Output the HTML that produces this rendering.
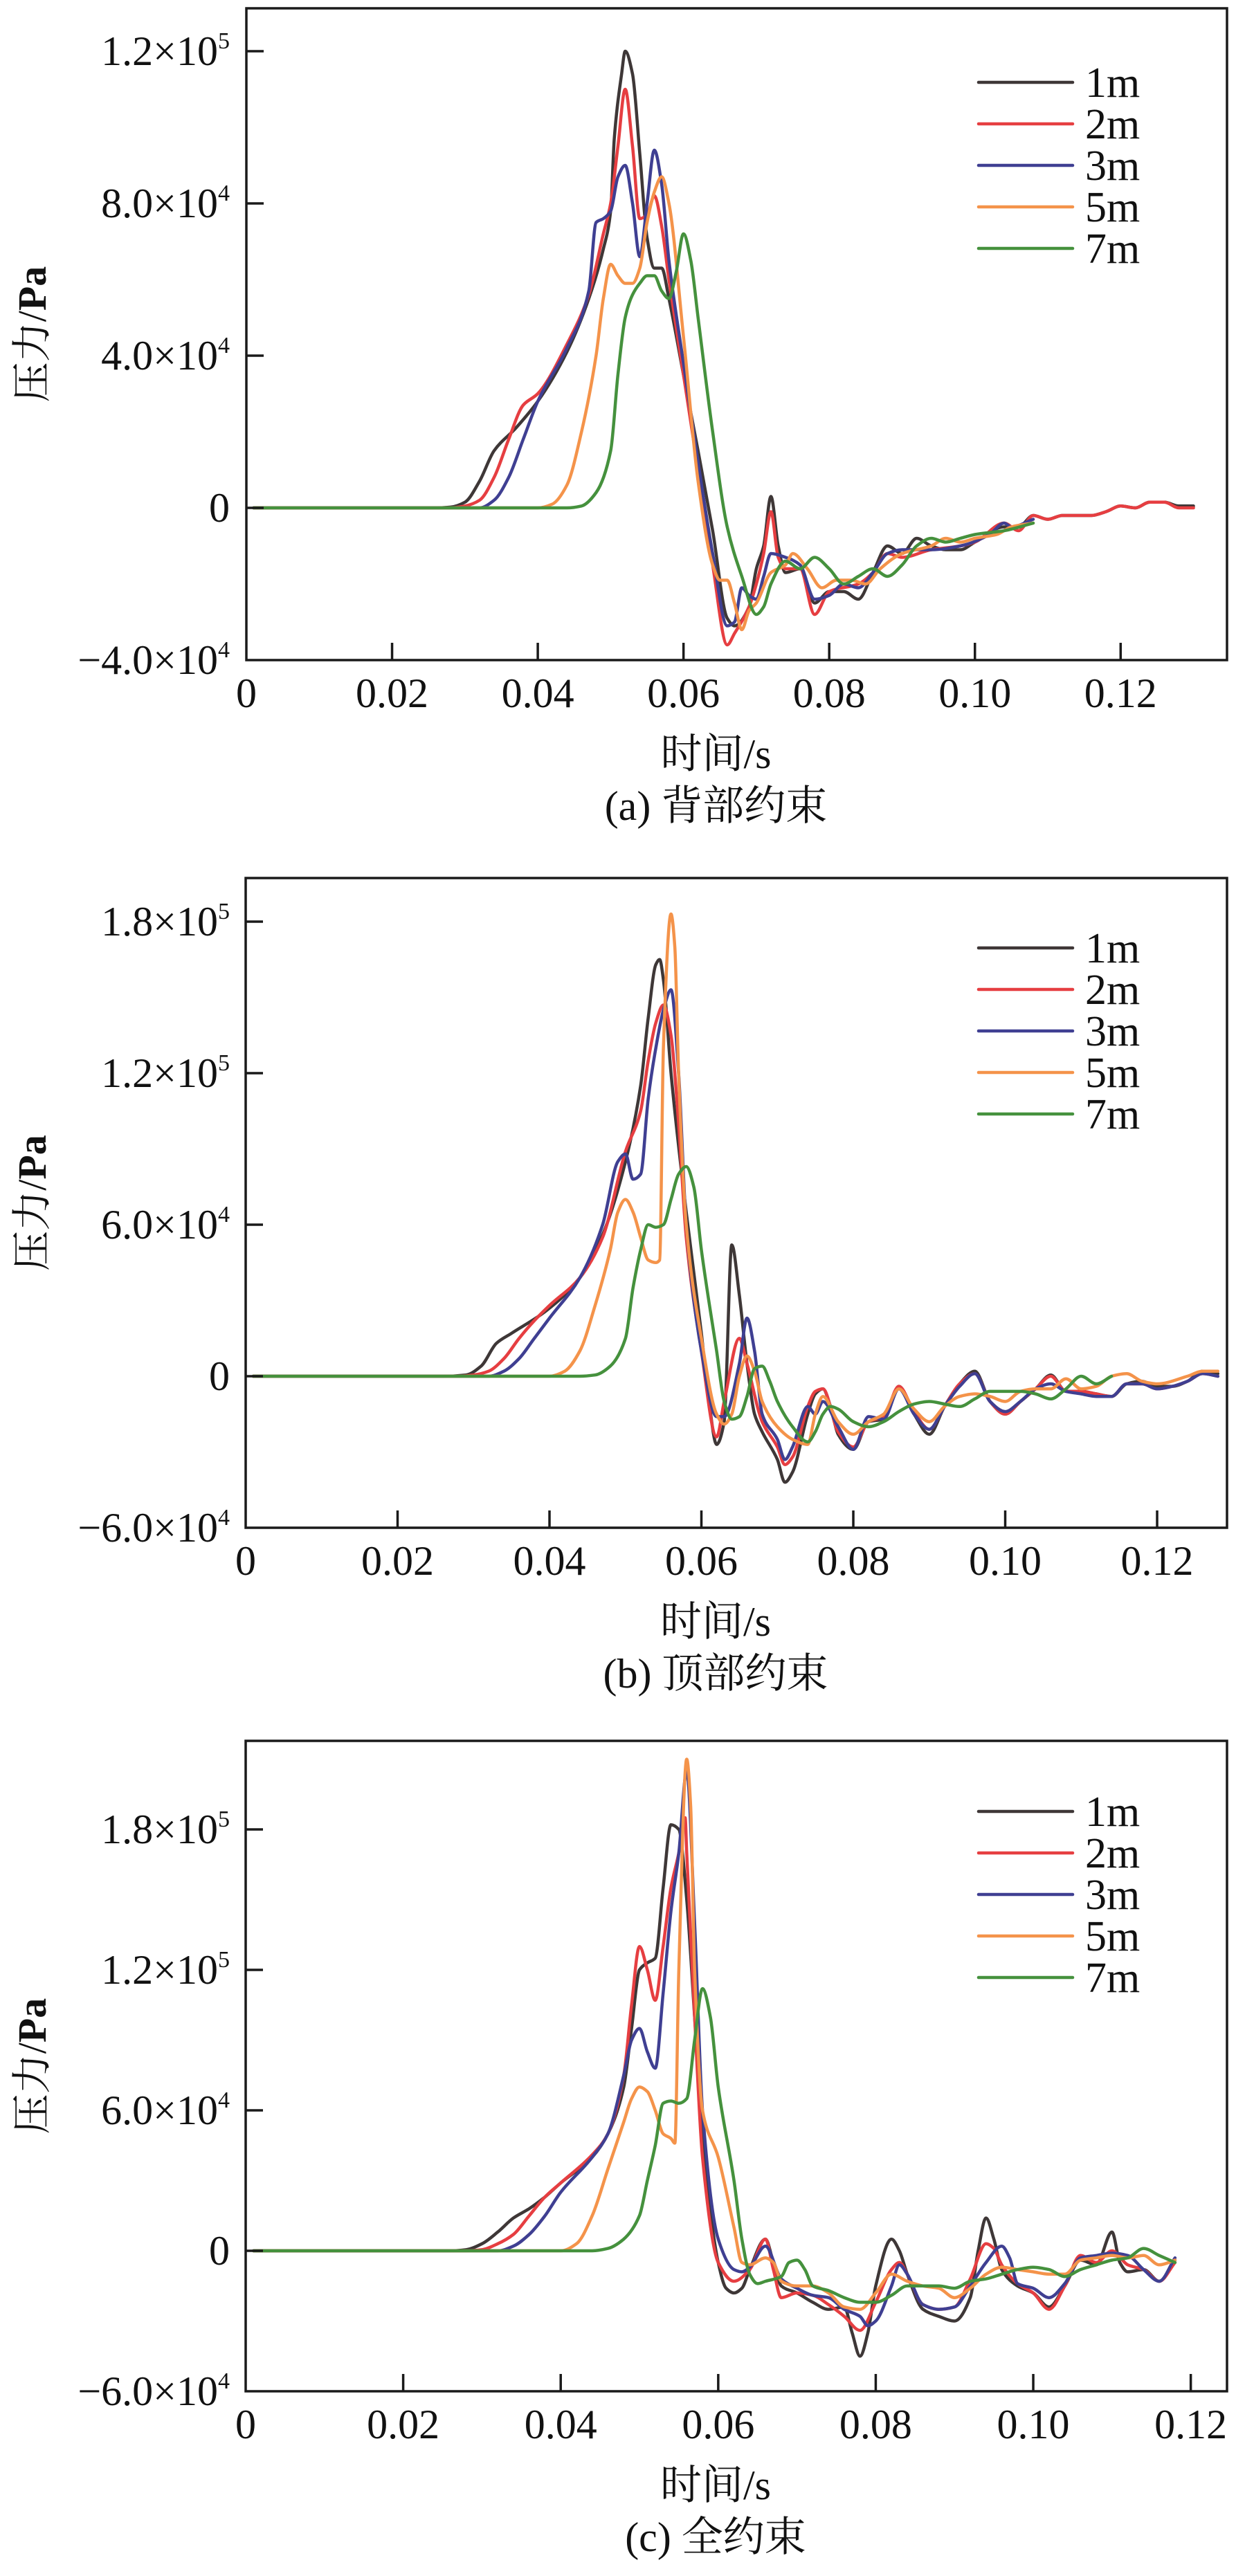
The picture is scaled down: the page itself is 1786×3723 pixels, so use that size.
<!DOCTYPE html>
<html><head><meta charset="utf-8">
<style>
html,body{margin:0;padding:0;background:#fff;}
svg{display:block;}
text{font-family:"Liberation Serif","Noto Serif CJK SC",serif;fill:#111;}
</style></head>
<body>
<svg id="fig" width="1786" height="3723" viewBox="0 0 1786 3723" xmlns="http://www.w3.org/2000/svg"></svg>
<script>
// ---- data (time in s, pressure in 1e4 Pa) ----
const seriesNames = ["1m","2m","3m","5m","7m"];
const seriesColors = ["#3e3737","#e63e41","#3f3f92","#f4934a","#45913d"];

const a1m = [[0.001,0],[0.026,0],[0.028,0.02],[0.030,0.15],[0.032,0.7],[0.034,1.5],[0.037,2.1],[0.040,2.8],[0.044,4.1],[0.047,5.5],[0.049,6.8],[0.050,7.8],[0.0505,9.7],[0.0515,11.4],[0.052,12.0],[0.053,11.4],[0.054,9.3],[0.055,7.1],[0.056,6.3],[0.057,6.3],[0.058,5.5],[0.060,3.5],[0.062,1.5],[0.064,-0.6],[0.066,-2.9],[0.067,-3.1],[0.069,-2.6],[0.070,-1.6],[0.071,-1.0],[0.072,0.3],[0.073,-1.0],[0.074,-1.7],[0.076,-1.6],[0.078,-2.5],[0.080,-2.2],[0.082,-2.2],[0.084,-2.4],[0.086,-1.7],[0.088,-1.0],[0.090,-1.2],[0.092,-0.8],[0.094,-1.0],[0.096,-1.1],[0.098,-1.1],[0.100,-0.9],[0.104,-0.5],[0.106,-0.5],[0.108,-0.2],[0.110,-0.3],[0.112,-0.2],[0.114,-0.2],[0.116,-0.2],[0.118,-0.1],[0.120,0.05],[0.122,0],[0.124,0.15],[0.126,0.15],[0.128,0.05],[0.130,0.05]];
const a2m = [[0.001,0],[0.028,0],[0.030,0.05],[0.032,0.2],[0.034,0.8],[0.036,1.8],[0.038,2.7],[0.040,3.0],[0.044,4.3],[0.047,5.6],[0.049,7.2],[0.050,8.0],[0.051,9.5],[0.052,11.0],[0.053,9.5],[0.054,7.6],[0.055,7.7],[0.056,8.2],[0.057,7.4],[0.058,6.0],[0.060,3.5],[0.062,1.0],[0.064,-1.5],[0.066,-3.6],[0.067,-3.3],[0.069,-2.6],[0.070,-2.0],[0.071,-1.2],[0.072,-0.1],[0.073,-1.3],[0.074,-1.6],[0.076,-1.6],[0.078,-2.8],[0.080,-2.2],[0.084,-2.0],[0.086,-1.7],[0.088,-1.2],[0.090,-1.3],[0.094,-1.1],[0.098,-1.0],[0.100,-0.9],[0.104,-0.4],[0.106,-0.6],[0.108,-0.2],[0.110,-0.3],[0.112,-0.2],[0.114,-0.2],[0.116,-0.2],[0.118,-0.1],[0.120,0.05],[0.122,0],[0.124,0.15],[0.126,0.15],[0.128,0.0],[0.130,0.0]];
const a3m = [[0.001,0],[0.032,0],[0.034,0.2],[0.036,0.8],[0.038,1.8],[0.040,2.8],[0.044,4.2],[0.047,5.7],[0.048,7.5],[0.049,7.6],[0.050,7.8],[0.051,8.7],[0.052,9.0],[0.053,8.0],[0.054,6.6],[0.055,8.0],[0.056,9.4],[0.057,8.5],[0.058,6.5],[0.060,3.8],[0.062,1.2],[0.064,-1.2],[0.066,-3.1],[0.067,-3.0],[0.068,-2.1],[0.069,-2.3],[0.070,-2.4],[0.071,-1.8],[0.072,-1.2],[0.074,-1.3],[0.076,-1.5],[0.078,-2.4],[0.080,-2.3],[0.082,-2.0],[0.084,-2.1],[0.086,-1.7],[0.088,-1.2],[0.090,-1.1],[0.094,-1.1],[0.098,-1.0],[0.102,-0.7],[0.104,-0.4],[0.105,-0.5],[0.108,-0.3]];
const a5m = [[0.001,0],[0.040,0],[0.042,0.1],[0.044,0.6],[0.046,2.0],[0.048,4.0],[0.049,5.5],[0.050,6.4],[0.051,6.1],[0.052,5.9],[0.053,5.9],[0.054,6.3],[0.055,7.5],[0.056,8.3],[0.057,8.7],[0.058,8.0],[0.060,4.5],[0.062,0.7],[0.064,-1.5],[0.065,-1.9],[0.066,-1.9],[0.067,-2.5],[0.068,-3.2],[0.069,-2.7],[0.070,-2.5],[0.072,-1.7],[0.074,-1.5],[0.075,-1.2],[0.077,-1.6],[0.079,-2.1],[0.081,-1.9],[0.083,-1.9],[0.085,-2.0],[0.087,-1.6],[0.090,-1.2],[0.094,-1.0],[0.096,-0.8],[0.098,-0.9],[0.100,-0.8],[0.103,-0.7],[0.105,-0.5],[0.108,-0.4]];
const a7m = [[0.001,0],[0.044,0],[0.046,0.05],[0.048,0.4],[0.050,1.5],[0.051,3.5],[0.052,5.0],[0.053,5.6],[0.054,5.9],[0.055,6.1],[0.056,6.1],[0.057,5.7],[0.058,5.5],[0.059,6.2],[0.060,7.2],[0.061,6.5],[0.062,5.0],[0.064,2.0],[0.066,-0.5],[0.068,-1.8],[0.070,-2.8],[0.071,-2.6],[0.072,-2.0],[0.074,-1.4],[0.076,-1.6],[0.078,-1.3],[0.080,-1.6],[0.082,-2.0],[0.084,-1.8],[0.086,-1.6],[0.088,-1.8],[0.090,-1.5],[0.092,-1.0],[0.094,-0.8],[0.096,-0.9],[0.098,-0.8],[0.100,-0.7],[0.104,-0.6],[0.108,-0.4]];

const b1m = [[0.001,0],[0.026,0],[0.029,0.05],[0.031,0.4],[0.033,1.3],[0.035,1.7],[0.0396,2.6],[0.044,3.9],[0.047,5.6],[0.050,8.5],[0.052,11.5],[0.053,14.2],[0.054,16.3],[0.0545,16.5],[0.055,15.7],[0.056,12.0],[0.058,6.5],[0.060,1.7],[0.061,-1.0],[0.062,-2.7],[0.063,-1.8],[0.064,5.2],[0.065,3.2],[0.066,0.5],[0.067,-1.5],[0.068,-2.2],[0.070,-3.3],[0.071,-4.2],[0.072,-3.8],[0.074,-1.5],[0.075,-0.7],[0.076,-0.5],[0.077,-1.2],[0.078,-2.3],[0.080,-2.9],[0.082,-1.8],[0.084,-1.7],[0.086,-0.4],[0.088,-1.5],[0.090,-2.3],[0.092,-1.2],[0.094,-0.3],[0.096,0.2],[0.098,-1.0],[0.100,-1.5],[0.102,-1.0],[0.104,-0.5],[0.106,0.05],[0.108,-0.6],[0.110,-0.6],[0.112,-0.7],[0.114,-0.8],[0.116,-0.3],[0.118,-0.2],[0.120,-0.4],[0.122,-0.4],[0.124,-0.2],[0.126,0.2],[0.128,0.1]];
const b2m = [[0.001,0],[0.028,0],[0.030,0.05],[0.032,0.2],[0.034,0.7],[0.036,1.5],[0.038,2.2],[0.040,2.8],[0.044,3.9],[0.047,5.5],[0.050,8.9],[0.052,10.5],[0.053,12.5],[0.054,14.0],[0.055,14.7],[0.056,13.5],[0.057,10],[0.058,5.5],[0.060,1.0],[0.062,-2.4],[0.063,-1.0],[0.065,1.5],[0.066,0.5],[0.068,-1.8],[0.070,-2.8],[0.071,-3.5],[0.072,-3.2],[0.074,-1.2],[0.075,-0.6],[0.076,-0.5],[0.078,-2.2],[0.080,-2.8],[0.082,-1.8],[0.084,-1.6],[0.086,-0.4],[0.088,-1.4],[0.090,-2.1],[0.092,-1.2],[0.094,-0.3],[0.096,0.1],[0.098,-1.0],[0.100,-1.5],[0.102,-1.0],[0.104,-0.5],[0.106,0.0],[0.108,-0.6],[0.110,-0.6],[0.112,-0.7],[0.114,-0.8],[0.116,-0.3],[0.118,-0.3],[0.120,-0.5],[0.122,-0.4],[0.124,-0.2],[0.126,0.1],[0.128,0.0]];
const b3m = [[0.001,0],[0.032,0],[0.034,0.2],[0.036,0.7],[0.038,1.5],[0.040,2.3],[0.044,3.9],[0.047,6.0],[0.049,8.5],[0.050,8.8],[0.051,7.8],[0.052,8.0],[0.053,11],[0.054,13.0],[0.055,14.5],[0.056,15.3],[0.057,12],[0.058,6],[0.060,1.0],[0.062,-1.6],[0.063,-1.6],[0.065,0.5],[0.066,2.3],[0.067,1.0],[0.068,-1.5],[0.070,-2.5],[0.071,-3.3],[0.072,-2.8],[0.074,-1.2],[0.075,-1.5],[0.076,-1.0],[0.078,-2.0],[0.080,-2.9],[0.082,-1.6],[0.084,-1.7],[0.086,-0.5],[0.088,-1.5],[0.090,-2.1],[0.092,-1.2],[0.094,-0.4],[0.096,0.1],[0.098,-1.0],[0.100,-1.4],[0.102,-1.0],[0.104,-0.5],[0.106,-0.3],[0.108,-0.6],[0.110,-0.7],[0.112,-0.8],[0.114,-0.8],[0.116,-0.3],[0.118,-0.3],[0.120,-0.5],[0.122,-0.4],[0.124,-0.2],[0.126,0.1],[0.128,0.0]];
const b5m = [[0.001,0],[0.040,0.0],[0.042,0.2],[0.044,1.0],[0.046,2.8],[0.048,5.0],[0.049,6.5],[0.050,7.0],[0.051,6.5],[0.052,5.5],[0.053,4.6],[0.054,4.5],[0.0545,4.6],[0.055,13],[0.056,18.3],[0.0565,17],[0.057,12],[0.058,6],[0.060,1.5],[0.062,-1.5],[0.063,-1.9],[0.064,-1.5],[0.065,0.0],[0.066,0.8],[0.067,0.2],[0.068,-1.0],[0.070,-2.0],[0.072,-2.5],[0.074,-2.7],[0.075,-1.5],[0.076,-0.8],[0.078,-1.8],[0.080,-2.3],[0.082,-1.8],[0.084,-1.5],[0.086,-0.5],[0.088,-1.3],[0.090,-1.8],[0.092,-1.2],[0.094,-0.8],[0.096,-0.7],[0.098,-0.8],[0.100,-1.0],[0.102,-0.6],[0.104,-0.5],[0.106,-0.5],[0.108,-0.1],[0.110,-0.5],[0.112,-0.4],[0.114,0],[0.116,0.1],[0.118,-0.2],[0.120,-0.3],[0.124,0],[0.126,0.2],[0.128,0.2]];
const b7m = [[0.001,0],[0.044,0],[0.046,0.05],[0.048,0.4],[0.050,1.5],[0.051,3.5],[0.052,5.0],[0.053,6.0],[0.054,5.9],[0.055,6.0],[0.056,7.0],[0.057,8.0],[0.058,8.3],[0.059,7.5],[0.060,5.0],[0.062,1.0],[0.063,-1.0],[0.064,-1.7],[0.065,-1.6],[0.066,-0.8],[0.067,0.3],[0.068,0.4],[0.069,-0.2],[0.070,-1.0],[0.072,-2.0],[0.074,-2.6],[0.075,-2.2],[0.076,-1.5],[0.077,-1.2],[0.078,-1.3],[0.080,-1.8],[0.082,-2.0],[0.084,-1.8],[0.086,-1.4],[0.088,-1.1],[0.090,-1.0],[0.092,-1.1],[0.094,-1.2],[0.096,-0.9],[0.098,-0.6],[0.100,-0.6],[0.102,-0.6],[0.104,-0.7],[0.106,-0.9],[0.108,-0.5],[0.110,0.0],[0.112,-0.3],[0.114,0.0]];

const c1m = [[0.001,0],[0.026,0],[0.028,0.05],[0.030,0.3],[0.032,0.8],[0.034,1.4],[0.036,1.8],[0.038,2.3],[0.040,2.9],[0.044,4.0],[0.046,5.0],[0.048,7.0],[0.049,9.5],[0.050,12.0],[0.051,12.3],[0.052,12.5],[0.053,15.5],[0.054,18.2],[0.055,18.0],[0.056,15],[0.057,10],[0.058,5],[0.060,-0.5],[0.061,-1.6],[0.062,-1.8],[0.063,-1.6],[0.064,-0.8],[0.066,0.5],[0.067,-0.5],[0.068,-1.5],[0.070,-1.8],[0.072,-2.2],[0.074,-2.5],[0.076,-2.4],[0.077,-3.5],[0.078,-4.5],[0.079,-3.5],[0.080,-1.5],[0.082,0.5],[0.083,0.0],[0.084,-1.0],[0.086,-2.5],[0.088,-2.8],[0.090,-3.0],[0.092,-2.0],[0.093,0.0],[0.094,1.4],[0.095,0.5],[0.096,-0.8],[0.098,-1.5],[0.100,-1.8],[0.102,-2.4],[0.104,-1.5],[0.106,-0.4],[0.108,-0.6],[0.110,0.8],[0.111,-0.5],[0.112,-0.9],[0.114,-0.8],[0.116,-1.3],[0.118,-0.4]];
const c2m = [[0.001,0],[0.028,0],[0.030,0.05],[0.032,0.3],[0.034,0.7],[0.036,1.5],[0.038,2.3],[0.040,2.9],[0.044,4.1],[0.046,5.0],[0.048,7.5],[0.049,10.5],[0.050,13.0],[0.051,12.0],[0.052,10.7],[0.053,13],[0.054,15.5],[0.055,17],[0.0558,18.5],[0.056,17],[0.057,10],[0.058,4],[0.060,-0.5],[0.062,-1.3],[0.064,-0.8],[0.066,0.5],[0.067,-0.8],[0.068,-2.0],[0.070,-1.8],[0.072,-1.9],[0.074,-2.3],[0.076,-2.8],[0.078,-3.4],[0.080,-2.2],[0.082,-0.8],[0.083,-0.5],[0.084,-1.0],[0.086,-2.3],[0.088,-2.5],[0.090,-2.4],[0.092,-1.2],[0.094,0.3],[0.095,0.1],[0.096,-0.6],[0.098,-1.4],[0.100,-1.8],[0.102,-2.5],[0.104,-1.5],[0.106,-0.2],[0.108,-0.5],[0.110,0.0],[0.112,-0.6],[0.114,-0.8],[0.116,-1.3],[0.118,-0.5]];
const c3m = [[0.001,0],[0.032,0],[0.034,0.2],[0.036,0.7],[0.038,1.5],[0.040,2.5],[0.044,4.0],[0.046,5.0],[0.048,7.5],[0.049,9.0],[0.050,9.5],[0.051,8.5],[0.052,7.8],[0.053,11],[0.054,14.5],[0.055,17.0],[0.056,20.5],[0.057,14],[0.058,6],[0.060,0.5],[0.062,-0.8],[0.063,-0.9],[0.064,-0.7],[0.066,0.2],[0.068,-1.2],[0.070,-1.6],[0.072,-1.9],[0.074,-2.0],[0.076,-2.5],[0.078,-2.8],[0.079,-3.2],[0.080,-3.0],[0.082,-1.5],[0.083,-0.6],[0.084,-1.0],[0.086,-2.3],[0.088,-2.5],[0.090,-2.4],[0.092,-1.5],[0.094,-0.5],[0.096,0.2],[0.097,-0.3],[0.098,-1.4],[0.100,-1.6],[0.102,-2.0],[0.104,-1.4],[0.106,-0.3],[0.108,-0.2],[0.110,-0.1],[0.112,-0.2],[0.114,-0.8],[0.116,-1.3],[0.118,-0.3]];
const c5m = [[0.001,0],[0.040,0.0],[0.042,0.3],[0.044,1.5],[0.046,3.5],[0.048,5.5],[0.049,6.5],[0.050,7.0],[0.051,6.8],[0.052,6.0],[0.053,5.0],[0.054,4.8],[0.0545,4.6],[0.055,12],[0.056,21.0],[0.0565,19],[0.057,12],[0.058,6],[0.060,4.0],[0.062,1],[0.063,-0.5],[0.064,-0.6],[0.066,-0.3],[0.067,-0.5],[0.068,-1.3],[0.070,-1.5],[0.072,-1.5],[0.074,-1.8],[0.076,-2.4],[0.078,-2.5],[0.080,-1.8],[0.082,-1.0],[0.084,-1.3],[0.086,-1.5],[0.088,-1.6],[0.090,-2.0],[0.092,-1.6],[0.094,-1.0],[0.096,-0.7],[0.098,-0.8],[0.100,-0.9],[0.102,-1.0],[0.104,-1.0],[0.106,-0.4],[0.108,-0.3],[0.110,-0.2],[0.112,-0.3],[0.114,-0.2],[0.116,-0.6],[0.118,-0.4]];
const c7m = [[0.001,0],[0.044,0],[0.046,0.1],[0.048,0.5],[0.050,1.5],[0.051,3.0],[0.052,4.5],[0.053,6.3],[0.054,6.4],[0.055,6.3],[0.056,6.5],[0.057,9],[0.058,11.2],[0.059,10],[0.060,7],[0.062,3.0],[0.063,0.5],[0.064,-1.0],[0.065,-1.4],[0.066,-1.3],[0.068,-1.1],[0.069,-0.5],[0.070,-0.4],[0.071,-0.8],[0.072,-1.5],[0.074,-1.7],[0.076,-2.0],[0.078,-2.2],[0.080,-2.2],[0.082,-1.9],[0.084,-1.5],[0.086,-1.5],[0.088,-1.5],[0.090,-1.6],[0.092,-1.3],[0.094,-1.2],[0.096,-1.0],[0.098,-0.8],[0.100,-0.7],[0.102,-0.8],[0.104,-1.1],[0.106,-0.8],[0.108,-0.6],[0.110,-0.4],[0.112,-0.3],[0.114,0.1],[0.116,-0.2],[0.118,-0.5]];

const xTickValues = [0,0.02,0.04,0.06,0.08,0.10,0.12];
const xTickLabels = ["0","0.02","0.04","0.06","0.08","0.10","0.12"];
const aYTicks = [-4,0,4,8,12];
const aYMant = ["\u22124.0","0","4.0","8.0","1.2"];
const aYExp = ["4","","4","4","5"];
const bcYTicks = [-6,0,6,12,18];
const bcYMant = ["\u22126.0","0","6.0","1.2","1.8"];
const bcYExp = ["4","","4","5","5"];
const captions = ["(a) 背部约束","(b) 顶部约束","(c) 全约束"];

// ---- drawing ----
const NS = "http://www.w3.org/2000/svg";
const svg = document.getElementById("fig");
function mk(tag, attrs, parent){
  const e = document.createElementNS(NS, tag);
  for (const k in attrs) e.setAttribute(k, attrs[k]);
  (parent||svg).appendChild(e);
  return e;
}
// monotone cubic (Fritsch-Carlson) in pixel space, x increasing
function smoothPath(pts){
  const n = pts.length;
  const dx = [], sl = [];
  for (let i=0;i<n-1;i++){ dx[i]=pts[i+1][0]-pts[i][0]; sl[i]=(pts[i+1][1]-pts[i][1])/(dx[i]||1e-6); }
  const m = new Array(n);
  m[0]=sl[0]; m[n-1]=sl[n-2];
  for (let i=1;i<n-1;i++){
    if (sl[i-1]*sl[i] <= 0) m[i]=0;
    else {
      const w1 = 2*dx[i]+dx[i-1], w2 = dx[i]+2*dx[i-1];
      m[i] = (w1+w2)/(w1/sl[i-1]+w2/sl[i]);
    }
  }
  let d = "M" + pts[0][0].toFixed(1) + "," + pts[0][1].toFixed(1);
  for (let i=0;i<n-1;i++){
    const h = dx[i]/3;
    const c1x = pts[i][0]+h, c1y = pts[i][1]+m[i]*h;
    const c2x = pts[i+1][0]-h, c2y = pts[i+1][1]-m[i+1]*h;
    d += " C"+c1x.toFixed(1)+","+c1y.toFixed(1)+" "+c2x.toFixed(1)+","+c2y.toFixed(1)+" "+pts[i+1][0].toFixed(1)+","+pts[i+1][1].toFixed(1);
  }
  return d;
}
function drawChart(cfg, idx){
  const g = mk("g", {});
  
  
  const L=cfg.left, R=cfg.right, T=cfg.top, B=cfg.bottom;
  const xs = t => L + t/cfg.xmax * (R-L);
  const ys = v => cfg.y0 - v/cfg.yStep * cfg.yStepPx;
  const sg = mk("g", {}, g);
  cfg.series.forEach((s, i) => {
    const pts = s.map(p => [xs(p[0]), ys(p[1])]);
    const p = mk("path", {d: smoothPath(pts), fill:"none", stroke: seriesColors[i], "stroke-width": 4.5, "stroke-linejoin":"round", "stroke-linecap":"round"}, sg);
    
    
  });
  const fr = mk("rect", {x:L, y:T, width:R-L, height:B-T, fill:"none", stroke:"#1a1a1a", "stroke-width":3.5}, g);
  
  
  xTickValues.forEach((t, i) => {
    const x = xs(t);
    if (i>0) {
      const tk = mk("line", {x1:x, x2:x, y1:B, y2:B-25, stroke:"#1a1a1a", "stroke-width":3.5}, g);
      
      
    }
    const tx = mk("text", {x:x, y:B+68, "text-anchor":"middle", "font-size":60}, g);
    tx.textContent = xTickLabels[i];
    
    
  });
  cfg.yTicks.forEach((v, i) => {
    const y = ys(v);
    if (Math.abs(y-B) > 2) {
      const tk = mk("line", {x1:L, x2:L+25, y1:y, y2:y, stroke:"#1a1a1a", "stroke-width":3.5}, g);
      
      
    }
    const tx = mk("text", {x:332, y:y+20, "text-anchor":"end", "font-size":60}, g);
    
    
    if (cfg.yExp[i] === "") {
      tx.textContent = cfg.yMant[i];
    } else {
      const t1 = mk("tspan", {}, tx); t1.textContent = cfg.yMant[i] + "\u00d710";
      const t2 = mk("tspan", {dy:-24, "font-size":34}, tx); t2.textContent = cfg.yExp[i];
    }
  });
  const cy = (T+B)/2;
  const yt = mk("text", {x:0, y:0, "text-anchor":"middle", "font-size":58, transform:"translate(66,"+cy+") rotate(-90)"}, g);
  
  
  const y1 = mk("tspan", {}, yt); y1.textContent = "压力/";
  const y2 = mk("tspan", {"font-weight":"bold"}, yt); y2.textContent = "Pa";
  const xt = mk("text", {x:(L+R)/2 - 30, y:B+156, "text-anchor":"middle", "font-size":60}, g);
  xt.textContent = "时间/s";
  
  
  const cp = mk("text", {x:(L+R)/2 - 30, y:B+231, "text-anchor":"middle", "font-size":60}, g);
  cp.textContent = captions[idx];
  
  
  const lg = mk("g", {}, g);
  
  
  seriesNames.forEach((n, i) => {
    const ry = cfg.legendTop + i*60;
    const ln = mk("line", {x1:1414, x2:1550, y1:ry, y2:ry, stroke:seriesColors[i], "stroke-width":4.5, "stroke-linecap":"round"}, lg);
    
    
    const tx = mk("text", {x:1568, y:ry+21, "font-size":62}, lg);
    tx.textContent = n;
    
    
  });
}
const charts = [
  {left:356, right:1773, top:12, bottom:954, xmax:0.1346, y0:734, yStep:4, yStepPx:220,
   yTicks:aYTicks, yMant:aYMant, yExp:aYExp, legendTop:119, series:[a1m,a2m,a3m,a5m,a7m]},
  {left:355, right:1773, top:1269, bottom:2208, xmax:0.1292, y0:1989, yStep:6, yStepPx:219,
   yTicks:bcYTicks, yMant:bcYMant, yExp:bcYExp, legendTop:1370, series:[b1m,b2m,b3m,b5m,b7m]},
  {left:355, right:1773, top:2516, bottom:3456, xmax:0.1246, y0:3253, yStep:6, yStepPx:203,
   yTicks:bcYTicks, yMant:bcYMant, yExp:bcYExp, legendTop:2618, series:[c1m,c2m,c3m,c5m,c7m]}
];
charts.forEach((c,i)=>drawChart(c,i));
</script>
</body></html>
